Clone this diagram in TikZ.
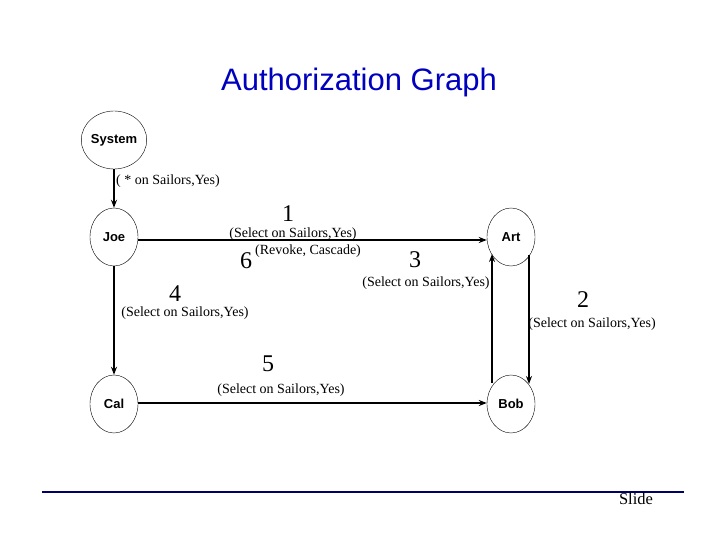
\documentclass[tikz,border=0pt]{standalone}
\usepackage{fontspec}
\setmainfont{Liberation Serif}
\newfontfamily\arial{Liberation Sans}
\begin{document}
\begin{tikzpicture}[x=1pt,y=-1pt,
  pers/.style={draw,ellipse,minimum width=48pt,minimum height=58pt,inner sep=0pt,font=\arial\bfseries\fontsize{13}{14}\selectfont},
  edge/.style={draw,line width=1.3pt,-{Stealth[length=8pt,width=6pt]}},
  lab/.style={font=\fontsize{14}{16}\selectfont,inner sep=0pt},
  num/.style={font=\fontsize{24}{26}\selectfont,inner sep=0pt}]
\usetikzlibrary{shapes.geometric,arrows.meta}
\useasboundingbox (0,0) rectangle (720,540);
\node[font=\arial\fontsize{31}{34}\selectfont,text=blue!75!black] (title) at (359,82) {Authorization Graph};
\node[pers] (sys) at (114,140) {System};
\node[pers] (joe) at (114,237) {Joe};
\node[pers] (cal) at (114,404) {Cal};
\node[pers] (art) at (511,237) {Art};
\node[pers] (bob) at (511,404) {Bob};
\draw[edge] (sys) -- (joe);
\draw[edge] (joe.east |- 0,240) coordinate (j1) -- (art.west |- 0,240);
\draw[edge] (joe) -- (cal);
\draw[edge] (cal.east |- 0,403) -- (bob.west |- 0,403);
\draw[edge] (492,383) coordinate (b1) -- (492,254) coordinate (a1);
\draw[edge] (529,255) coordinate (a2) -- (529,384) coordinate (b2);
\node[lab] (l0) at (168,181) {( * on Sailors,Yes)};
\node[num] (n1) at (288,214) {1};
\node[lab] (l1) at (293,234) {(Select on Sailors,Yes)};
\node[num] (n6) at (246,261) {6};
\node[lab] (l6) at (308,251) {(Revoke, Cascade)};
\node[num] (n3) at (415,260) {3};
\node[lab] (l3) at (426,283) {(Select on Sailors,Yes)};
\node[num] (n4) at (175,294) {4};
\node[lab] (l4) at (185,313) {(Select on Sailors,Yes)};
\node[num] (n2) at (583,300) {2};
\node[lab] (l2) at (592,324) {(Select on Sailors,Yes)};
\node[num] (n5) at (268,364) {5};
\node[lab] (l5) at (281,390) {(Select on Sailors,Yes)};
\draw[line width=1.5pt,color=blue!40!black] (42,492) coordinate (r1) -- (684,492) coordinate (r2);
\node[font=\fontsize{16.5}{18}\selectfont] (slide) at (636,499) {Slide};
\end{tikzpicture}
\end{document}
